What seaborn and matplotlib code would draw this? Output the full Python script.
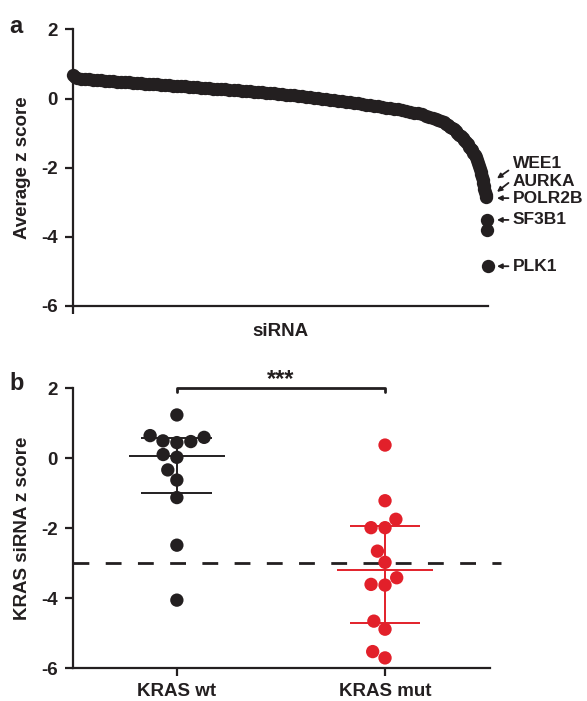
import numpy as np
import pandas as pd
import matplotlib
matplotlib.use("Agg")
import matplotlib.pyplot as plt
import seaborn as sns

sns.set_theme(style="ticks")
plt.rcParams['font.family'] = ['Liberation Sans', 'DejaVu Sans']
plt.rcParams['font.weight'] = 'bold'
plt.rcParams['axes.labelweight'] = 'bold'
plt.rcParams['axes.unicode_minus'] = False

INK = "#231F20"
RED = "#E2202A"

# ---------------- panel a data: ranked siRNA average z scores ----------------
rank = [1, 4, 8, 14, 21, 28, 35, 42, 49, 56, 63, 70, 77, 84, 91, 98, 105, 112,
        119, 126, 133, 140, 147, 154, 161, 168, 175, 182, 189, 196, 203, 210,
        217, 224, 231, 238, 245, 252, 259, 266, 273, 280, 287, 294, 301, 308,
        315, 322, 329, 336, 343, 350, 357, 364, 371, 378, 385, 392, 399, 406,
        413, 420, 427, 434, 441, 448, 455, 462, 469, 476, 483, 490, 497, 504,
        511, 518, 525, 532, 539, 546, 553, 560, 567, 574, 581, 588, 595, 602,
        609, 615, 621, 627, 632, 637, 642, 646, 650, 654, 658, 661, 664, 667,
        670, 673, 676, 679, 682, 685, 688, 691, 694, 696, 698, 700, 702, 704,
        706, 708, 710, 711, 712, 713, 714, 715, 716, 717, 718, 719, 720, 721,
        722, 723]
zscore = [0.68, 0.63, 0.60, 0.58, 0.57, 0.56, 0.55, 0.54, 0.53, 0.52, 0.51,
          0.50, 0.49, 0.49, 0.48, 0.47, 0.46, 0.45, 0.44, 0.43, 0.42, 0.41,
          0.41, 0.40, 0.39, 0.38, 0.37, 0.36, 0.36, 0.35, 0.34, 0.33, 0.33,
          0.32, 0.31, 0.30, 0.29, 0.28, 0.28, 0.27, 0.26, 0.25, 0.24, 0.23,
          0.22, 0.21, 0.20, 0.19, 0.18, 0.17, 0.16, 0.15, 0.14, 0.13, 0.11,
          0.10, 0.09, 0.08, 0.07, 0.05, 0.04, 0.03, 0.02, 0.00, -0.01, -0.03,
          -0.04, -0.06, -0.07, -0.09, -0.11, -0.12, -0.14, -0.16, -0.18,
          -0.19, -0.21, -0.22, -0.24, -0.26, -0.27, -0.29, -0.31, -0.33,
          -0.35, -0.38, -0.41, -0.43, -0.46, -0.49, -0.52, -0.55, -0.58,
          -0.61, -0.65, -0.69, -0.73, -0.77, -0.81, -0.85, -0.89, -0.94,
          -0.99, -1.04, -1.09, -1.14, -1.20, -1.26, -1.32, -1.39, -1.45,
          -1.50, -1.56, -1.62, -1.69, -1.77, -1.85, -1.95, -2.05, -2.12,
          -2.19, -2.27, -2.35, -2.43, -2.52, -2.62, -2.70, -2.78, -2.85,
          -3.50, -3.80, -4.83]

# labelled hits: (label, text y, arrow tail y, arrow head y)
hit_labels = ["WEE1", "AURKA", "POLR2B", "SF3B1", "PLK1"]
hit_text_y = [-1.88, -2.39, -2.90, -3.51, -4.85]
hit_tail_y = [-2.08, -2.44, -2.88, -3.51, -4.85]
hit_head_y = [-2.31, -2.70, -2.88, -3.51, -4.85]

# ---------------- panel b data ----------------
groups = ["KRAS wt", "KRAS mut"]
kras_wt = [1.23, 0.59, 0.49, 0.44, 0.47, 0.64, 0.02, 0.10, -0.34, -0.63,
           -1.13, -2.49, -4.06]
kras_mut = [0.37, -1.22, -1.75, -1.99, -1.99, -2.66, -2.98, -3.42, -3.63,
            -3.61, -4.66, -4.89, -5.53, -5.71]
# median and interquartile range (q1, median, q3)
wt_stats = [-0.99, 0.06, 0.56]
mut_stats = [-4.72, -3.20, -1.93]
threshold = -3.0

df_a = pd.DataFrame({"rank": rank, "z": zscore})
df_b = pd.DataFrame({
    "group": [groups[0]] * len(kras_wt) + [groups[1]] * len(kras_mut),
    "z": kras_wt + kras_mut,
})

fig = plt.figure(figsize=(5.87, 7.01), dpi=100)
ax1 = fig.add_axes([0.124, 0.5635, 0.707, 0.3945])
ax2 = fig.add_axes([0.124, 0.047, 0.711, 0.3995])

LBL = 13.5
TCK = 13.5

# ---------- panel a ----------
sns.scatterplot(data=df_a, x="rank", y="z", ax=ax1, color=INK, s=92,
                linewidth=0, legend=False, clip_on=False, zorder=3)
ax1.set_xlim(0, 723)
ax1.set_ylim(-6, 2)
ax1.set_yticks([-6, -4, -2, 0, 2])
ax1.set_xticks([0])
ax1.set_xticklabels([""])
ax1.set_xlabel("siRNA", fontsize=LBL, fontweight="bold", color=INK, labelpad=1)
ax1.set_ylabel("Average z score", fontsize=LBL, fontweight="bold", color=INK,
               labelpad=7)
for lab, ty, tt, th in zip(hit_labels, hit_text_y, hit_tail_y, hit_head_y):
    ax1.text(767, ty, lab, fontsize=12.5, fontweight="bold", color=INK,
             va="center", ha="left", clip_on=False)
    ax1.annotate("", xy=(739, th), xytext=(759, tt), xycoords="data",
                 textcoords="data", annotation_clip=False,
                 arrowprops=dict(arrowstyle="-|>", color=INK, lw=1.3,
                                 mutation_scale=7, shrinkA=0, shrinkB=0))

# ---------- panel b ----------
sns.swarmplot(data=df_b, x="group", y="z", hue="group", order=groups,
              palette=[INK, RED], ax=ax2, size=9.6, legend=False,
              linewidth=0, zorder=3, clip_on=False)
ax2.set_xlim(-0.5, 1.505)
ax2.set_ylim(-6, 2)
ax2.set_yticks([-6, -4, -2, 0, 2])
ax2.set_xlabel("")
ax2.set_ylabel("KRAS siRNA z score", fontsize=LBL, fontweight="bold",
               color=INK, labelpad=7)

for i, (st, col) in enumerate([(wt_stats, INK), (mut_stats, RED)]):
    q1, med, q3 = st
    ax2.hlines(med, i - 0.23, i + 0.23, color=col, lw=1.4, zorder=4)
    ax2.hlines([q1, q3], i - 0.17, i + 0.17, color=col, lw=1.4, zorder=4)
    ax2.vlines(i, q1, q3, color=col, lw=1.4, zorder=4)

ax2.axhline(threshold, xmin=0, xmax=1.025, color=INK, lw=2.0,
            dashes=(5.7, 5.9), clip_on=False, zorder=2)

# significance bracket
ax2.plot([0, 0, 1, 1], [1.88, 2.0, 2.0, 1.88], color=INK, lw=2.0,
         clip_on=False, zorder=5)
ax2.text(0.5, 1.9, "***", ha="center", va="bottom", fontsize=17,
         fontweight="bold", color=INK)

for ax in (ax1, ax2):
    sns.despine(ax=ax)
    for sp in ("left", "bottom"):
        ax.spines[sp].set_linewidth(1.6)
        ax.spines[sp].set_color(INK)
    ax.tick_params(axis="both", length=6, width=1.6, color=INK,
                   labelsize=TCK, labelcolor=INK, pad=5)
    for t in ax.get_yticklabels() + ax.get_xticklabels():
        t.set_fontweight("bold")

fig.text(0.016, 0.962, "a", fontsize=17, fontweight="bold", color=INK,
         va="center")
fig.text(0.016, 0.453, "b", fontsize=17, fontweight="bold", color=INK,
         va="center")

fig.savefig("out.png", dpi=100)
